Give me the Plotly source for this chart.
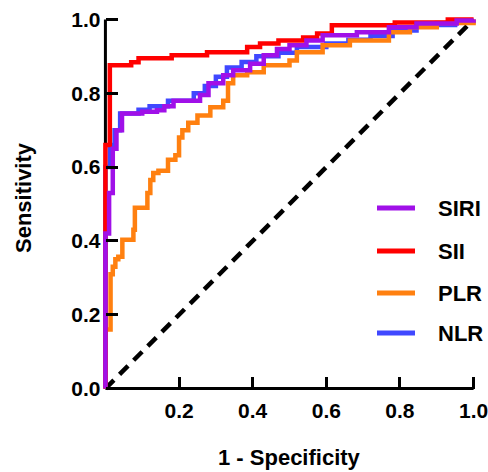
import plotly.graph_objects as go

# ---- data ----
siri_x = [0, 0, 0.01, 0.02, 0.03, 0.045, 0.10, 0.14, 0.16, 0.185, 0.257, 0.28, 0.32, 0.347, 0.393, 0.43, 0.466, 0.50, 0.546, 0.59, 0.683, 0.77, 0.845, 0.954, 1.0]
siri_y = [0, 0.42, 0.53, 0.65, 0.70, 0.745, 0.75, 0.754, 0.765, 0.78, 0.795, 0.827, 0.849, 0.862, 0.88, 0.903, 0.92, 0.93, 0.943, 0.957, 0.965, 0.979, 0.989, 0.997, 1.0]

sii_x = [0, 0, 0.012, 0.07, 0.09, 0.18, 0.276, 0.385, 0.42, 0.47, 0.537, 0.575, 0.615, 0.786, 0.93, 1.0]
sii_y = [0, 0.66, 0.876, 0.884, 0.895, 0.903, 0.911, 0.925, 0.935, 0.943, 0.951, 0.962, 0.984, 0.992, 1.0, 1.0]

plr_x = [0, 0, 0.014, 0.02, 0.027, 0.035, 0.046, 0.076, 0.08, 0.114, 0.122, 0.13, 0.144, 0.17, 0.19, 0.20, 0.209, 0.225, 0.25, 0.285, 0.32, 0.333, 0.347, 0.385, 0.43, 0.50, 0.52, 0.59, 0.664, 0.77, 0.827, 0.90, 1.0]
plr_y = [0, 0.16, 0.31, 0.33, 0.35, 0.357, 0.403, 0.43, 0.49, 0.53, 0.565, 0.584, 0.59, 0.62, 0.632, 0.68, 0.70, 0.72, 0.74, 0.762, 0.78, 0.827, 0.849, 0.857, 0.876, 0.889, 0.911, 0.93, 0.943, 0.965, 0.979, 0.99, 1.0]

nlr_x = [0, 0, 0.012, 0.025, 0.04, 0.09, 0.12, 0.17, 0.24, 0.27, 0.30, 0.33, 0.37, 0.41, 0.47, 0.52, 0.60, 0.66, 0.72, 0.78, 0.845, 0.95, 1.0]
nlr_y = [0, 0.60, 0.66, 0.70, 0.745, 0.755, 0.765, 0.78, 0.80, 0.82, 0.845, 0.87, 0.885, 0.90, 0.91, 0.925, 0.935, 0.945, 0.955, 0.97, 0.985, 0.995, 1.0]

ref_x = [0, 1]
ref_y = [0, 1]

series_names = ["SIRI", "SII", "PLR", "NLR"]
series_colors = {"SIRI": "#A010E8", "SII": "#FF0000", "PLR": "#FF8010", "NLR": "#4048FF"}
series_data = {"SIRI": (siri_x, siri_y), "SII": (sii_x, sii_y), "PLR": (plr_x, plr_y), "NLR": (nlr_x, nlr_y)}

x_tick_vals = [0.2, 0.4, 0.6, 0.8, 1.0]
x_tick_text = ["0.2", "0.4", "0.6", "0.8", "1.0"]
y_tick_vals = [0.0, 0.2, 0.4, 0.6, 0.8, 1.0]
y_tick_text = ["0.0", "0.2", "0.4", "0.6", "0.8", "1.0"]

x_title = "1 - Specificity"
y_title = "Sensitivity"

# ---- layout geometry ----
W, H = 488, 472
ML, MR, MT, MB = 101, 10, 15, 79
PAD = 0.012
RANGE = [-PAD, 1 + PAD]
FONT = "Liberation Sans, Arial, Helvetica, sans-serif"
axis_pos = PAD / (1 + 2 * PAD)

fig = go.Figure()

# diagonal reference line
fig.add_trace(go.Scatter(x=ref_x, y=ref_y, mode="lines",
                         line=dict(color="black", width=4.5, dash="12px,8px"),
                         showlegend=False, hoverinfo="skip"))

# draw order: bottom to top
for name in ["NLR", "PLR", "SII", "SIRI"]:
    xs, ys = series_data[name]
    fig.add_trace(go.Scatter(x=xs, y=ys, mode="lines", name=name,
                             line=dict(color=series_colors[name], width=4.5, shape="hv"),
                             showlegend=False))

# axis lines (from 0 to 1 only)
fig.add_shape(type="line", xref="x", yref="y", x0=0, x1=1, y0=0, y1=0,
              line=dict(color="black", width=3), layer="below")
fig.add_shape(type="line", xref="x", yref="y", x0=0, x1=0, y0=0, y1=1,
              line=dict(color="black", width=3), layer="below")

pw = W - ML - MR
ph = H - MT - MB
def px_x(p):
    return (p - ML) / pw
def px_y(p):
    return (H - MB - p) / ph

# manual legend
legend_rows = [208, 251, 293, 333]
for name, row in zip(series_names, legend_rows):
    fig.add_shape(type="line", xref="paper", yref="paper",
                  x0=px_x(377), x1=px_x(415), y0=px_y(row), y1=px_y(row),
                  line=dict(color=series_colors[name], width=5))
    fig.add_annotation(xref="paper", yref="paper", x=px_x(436), y=px_y(row),
                       text=name, showarrow=False, xanchor="left", yanchor="middle",
                       font=dict(family=FONT, size=22, color="black", weight="bold"))

# axis titles
fig.add_annotation(xref="paper", yref="paper", x=px_x(289), y=px_y(458),
                   text=x_title, showarrow=False, xanchor="center", yanchor="middle",
                   font=dict(family=FONT, size=22, color="black", weight="bold"))
fig.add_annotation(xref="paper", yref="paper", x=px_x(24), y=px_y(198),
                   text=y_title, showarrow=False, xanchor="center", yanchor="middle",
                   textangle=-90,
                   font=dict(family=FONT, size=22, color="black", weight="bold"))

fig.update_layout(
    template="none",
    width=W, height=H,
    margin=dict(l=ML, r=MR, t=MT, b=MB, pad=0),
    plot_bgcolor="white", paper_bgcolor="white",
    font=dict(family=FONT, color="black", weight="bold"),
    xaxis=dict(range=RANGE, showgrid=False, zeroline=False, showline=False,
               automargin=False, anchor="free", position=axis_pos,
               tickmode="array", tickvals=x_tick_vals, ticktext=x_tick_text,
               ticks="inside", ticklen=12, tickwidth=3, tickcolor="black",
               ticklabelstandoff=7, ticklabeloverflow="allow",
               tickfont=dict(family=FONT, size=21, color="black", weight="bold")),
    yaxis=dict(range=RANGE, showgrid=False, zeroline=False, showline=False,
               automargin=False, anchor="free", position=axis_pos,
               tickmode="array", tickvals=y_tick_vals, ticktext=y_tick_text,
               ticks="inside", ticklen=12, tickwidth=3, tickcolor="black",
               ticklabelstandoff=5, ticklabeloverflow="allow",
               tickfont=dict(family=FONT, size=21, color="black", weight="bold")),
)

fig.write_html("out.html", config={"displayModeBar": False},
               post_script="document.body.style.margin='0px';document.body.style.overflow='hidden';")
